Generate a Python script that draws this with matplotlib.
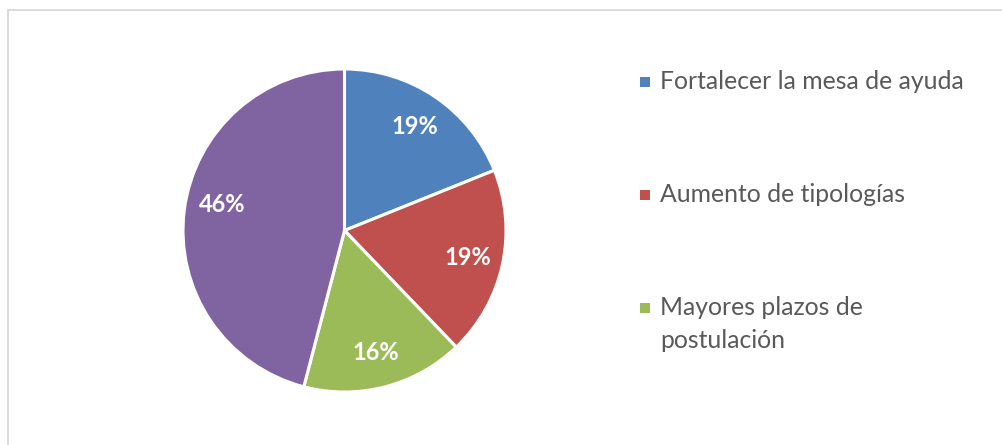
import matplotlib.pyplot as plt
from matplotlib.patches import Rectangle

# Datos (respuestas por categoría)
labels = ["Fortalecer la mesa de ayuda", "Aumento de tipologías",
          "Mayores plazos de\npostulación", ""]
values = [7, 7, 6, 17]
colors = ["#4F81BD", "#C0504D", "#9BBB59", "#8064A2"]

W, H = 1003, 445
fig = plt.figure(figsize=(W / 100, H / 100), dpi=100)
fig.patch.set_facecolor("white")

# Marco gris del gráfico (se sale por la derecha y por abajo)
fig.patches.append(Rectangle((8 / W, -0.05), 1.05, (H - 10) / H + 0.05,
                             transform=fig.transFigure, fill=False,
                             edgecolor="#D9D9D9", linewidth=1.3))

# Tarta
cx, cy, R = 344.5, 230.5, 161.5
ax = fig.add_axes([(cx - R) / W, (H - cy - R) / H, 2 * R / W, 2 * R / H])
wedges, texts, autotexts = ax.pie(
    values, colors=colors, startangle=90, counterclock=False,
    autopct=lambda p: f"{p:.0f}%", pctdistance=0.78,
    wedgeprops=dict(edgecolor="white", linewidth=2.2),
    textprops=dict(color="white", fontsize=17, fontweight="bold",
                   family="Lato"))
# la etiqueta del 46% va un poco más arriba en el original
autotexts[3].set_position((-0.76, 0.16))
ax.set_xlim(-1, 1)
ax.set_ylim(-1, 1)
ax.set_aspect("equal")
ax.axis("off")

# Leyenda manual (solo tres entradas visibles)
baselines = [89.3, 202.3, 315.0]
line_gap = 32.7
for lab, col, yb in zip(labels[:3], colors[:3], baselines):
    fig.patches.append(Rectangle((640 / W, 1 - (yb - 2) / H), 10 / W, 10 / H,
                                 transform=fig.transFigure,
                                 facecolor=col, edgecolor="none"))
    for i, line in enumerate(lab.split("\n")):
        fig.text(660 / W, 1 - (yb + i * line_gap) / H, line, ha="left",
                 va="baseline", fontsize=17.8, color="#595959", family="Lato")

plt.savefig("out.png", dpi=100)
